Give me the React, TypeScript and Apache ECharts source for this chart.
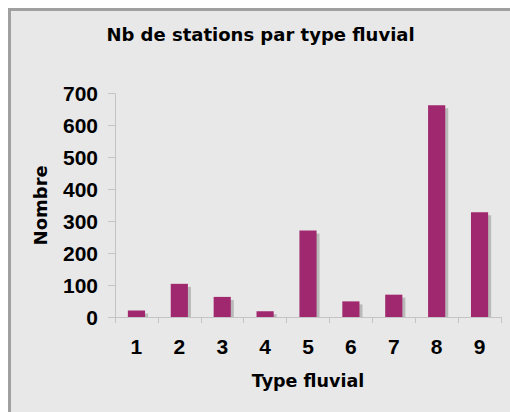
import React, { useEffect, useRef } from "react";
import * as echarts from "echarts";

const titleText = "Nb de stations par type fluvial";
const categories = ["1", "2", "3", "4", "5", "6", "7", "8", "9"];
const stationCounts = [20, 104, 63, 18, 271, 49, 70, 664, 328];
const yAxisName = "Nombre";
const xAxisName = "Type fluvial";

const BAR_COLOR = "#a0286f";
const SHADOW_COLOR = "#b9b9b9";
const AXIS_COLOR = "#c4c4c4";

export default function App() {
  const ref = useRef<HTMLDivElement>(null);

  useEffect(() => {
    if (!ref.current) return;
    const chart = echarts.init(ref.current, null, { renderer: "svg" });
    const data = stationCounts.map((v, i) => [i, v]);
    chart.setOption({
      animation: false,
      backgroundColor: "#e8e8e8",
      title: {
        text: titleText,
        left: "center",
        top: 14,
        padding: 0,
        textStyle: {
          fontFamily: "DejaVu Sans",
          fontWeight: "bold",
          fontSize: 18,
          color: "#000",
        },
      },
      grid: { left: 104, right: 9, top: 82.7, bottom: 95 },
      xAxis: {
        type: "category",
        data: categories,
        name: xAxisName,
        nameLocation: "middle",
        nameGap: 55,
        nameTextStyle: {
          fontFamily: "DejaVu Sans",
          fontWeight: "bold",
          fontSize: 17.5,
          color: "#000",
        },
        axisLine: { show: true, lineStyle: { color: AXIS_COLOR, width: 1 } },
        axisTick: { show: true, length: 6, lineStyle: { color: AXIS_COLOR } },
        axisLabel: {
          margin: 19,
          fontFamily: "Liberation Sans",
          fontWeight: "bold",
          fontSize: 21,
          color: "#000",
        },
        splitLine: { show: false },
      },
      yAxis: {
        type: "value",
        min: 0,
        max: 700,
        interval: 100,
        name: yAxisName,
        nameLocation: "middle",
        nameRotate: 90,
        nameGap: 66,
        nameTextStyle: {
          fontFamily: "DejaVu Sans",
          fontWeight: "bold",
          fontSize: 18,
          color: "#000",
        },
        axisLine: { show: true, lineStyle: { color: AXIS_COLOR, width: 1 } },
        axisTick: { show: true, length: 7, lineStyle: { color: AXIS_COLOR } },
        axisLabel: {
          margin: 17,
          fontFamily: "Liberation Sans",
          fontWeight: "bold",
          fontSize: 21,
          color: "#000",
        },
        splitLine: { show: false },
      },
      series: [
        {
          type: "custom",
          data,
          encode: { x: 0, y: 1 },
          renderItem: (params: any, api: any) => {
            const xi = api.value(0);
            const v = api.value(1);
            const top = api.coord([xi, v]);
            const base = api.coord([xi, 0]);
            const bw = api.size([1, 0])[0] * 0.4;
            const h = base[1] - top[1];
            return {
              type: "group",
              children: [
                {
                  type: "rect",
                  shape: {
                    x: top[0] - bw / 2 + 3,
                    y: top[1] + 3,
                    width: bw,
                    height: Math.max(h - 3, 0),
                  },
                  style: { fill: SHADOW_COLOR },
                },
                {
                  type: "rect",
                  shape: { x: top[0] - bw / 2, y: top[1], width: bw, height: h },
                  style: { fill: BAR_COLOR },
                },
              ],
            };
          },
        },
      ],
    });
    return () => chart.dispose();
  }, []);

  return (
    <div
      style={{
        position: "fixed",
        left: 8,
        top: 8,
        width: 502,
        height: 404,
        borderTop: "3px solid #a0a0a0",
        borderLeft: "3px solid #a0a0a0",
        boxSizing: "border-box",
        background: "#e8e8e8",
        overflow: "hidden",
      }}
    >
      <div ref={ref} style={{ width: 499, height: 401 }} />
    </div>
  );
}
